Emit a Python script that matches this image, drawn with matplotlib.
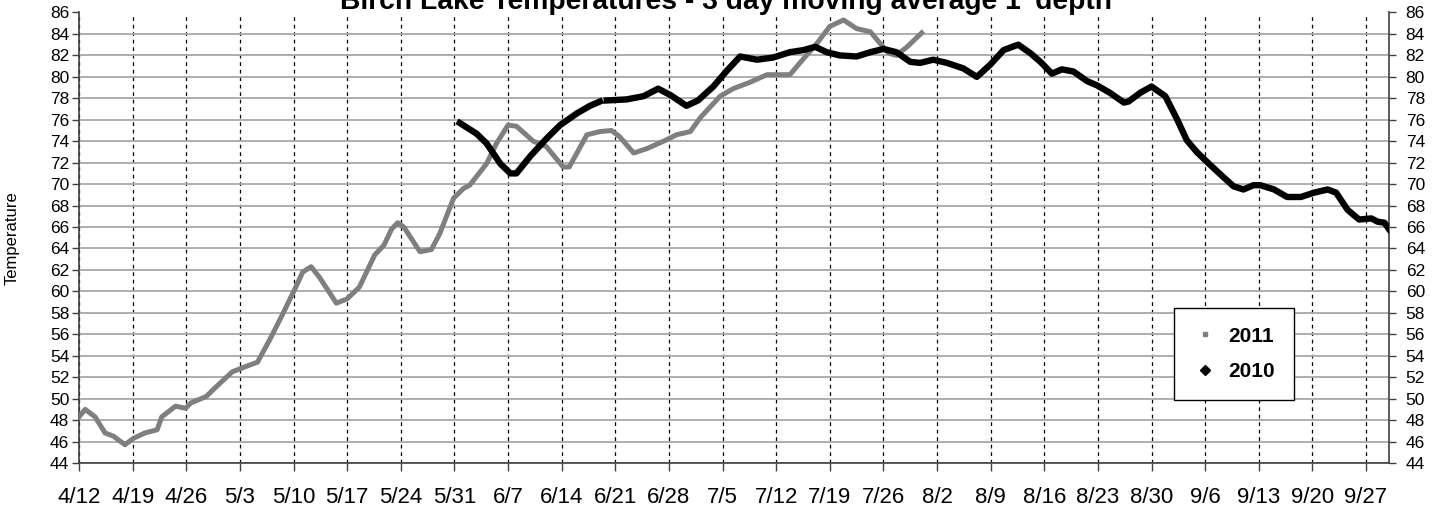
import matplotlib
matplotlib.use("Agg")
import matplotlib.pyplot as plt
import numpy as np
from matplotlib.lines import Line2D

plt.rcParams['font.family'] = ['Liberation Sans', 'DejaVu Sans']

# days counted from 4/12
week_labels = ['4/12', '4/19', '4/26', '5/3', '5/10', '5/17', '5/24', '5/31',
               '6/7', '6/14', '6/21', '6/28', '7/5', '7/12', '7/19', '7/26',
               '8/2', '8/9', '8/16', '8/23', '8/30', '9/6', '9/13', '9/20', '9/27']

# 2011 (gray)
days_2011 = [0, 0.8, 2.1, 3.4, 4.5, 6, 7.1, 8.6, 10.2, 10.8, 12.6, 13.9, 14.6,
             16.6, 17.9, 20, 21.8, 23.3, 24.9, 26.6, 28.3, 29.2, 30.3, 31.4,
             33.6, 35.0, 36.6, 38.6, 39.8, 40.8, 41.6, 42.4, 44.5, 46.0, 47.1,
             48.9, 50.2, 51.0, 53.2, 54.5, 56.0, 57.1, 59.3, 61.0, 63.2, 64.0,
             66.3, 68.0, 69.5, 70.6, 72.4, 74.1, 76.3, 78.0, 79.8, 81.1, 83.7,
             85.4, 87.6, 89.8, 92.8, 94.1, 96.3, 98.0, 99.8, 101.5, 103.3,
             104.6, 105.7, 106.7, 108.1, 110.0]
temp_2011 = [48.3, 49.0, 48.3, 46.8, 46.5, 45.7, 46.3, 46.8, 47.1, 48.3, 49.3,
             49.1, 49.6, 50.2, 51.1, 52.5, 53.0, 53.4, 55.5, 57.9, 60.4, 61.8,
             62.3, 61.3, 58.9, 59.3, 60.4, 63.4, 64.3, 65.8, 66.4, 66.0, 63.7,
             63.9, 65.4, 68.7, 69.6, 69.9, 71.9, 73.8, 75.5, 75.4, 74.0, 73.5,
             71.6, 71.6, 74.6, 74.9, 75.0, 74.4, 72.9, 73.3, 74.0, 74.6, 74.9,
             76.2, 78.2, 78.9, 79.5, 80.2, 80.2, 81.3, 83.1, 84.7, 85.3, 84.5,
             84.2, 83.1, 82.2, 82.0, 82.8, 84.1]

# 2010 (black)
days_2010 = [49.7, 51.9, 53.2, 55.0, 56.3, 57.1, 58.9, 61.1, 62.8, 65.0, 66.7,
             68.0, 68.4, 68.9, 71.5, 73.7, 75.6, 77.2, 79.3, 80.8, 82.8, 84.6,
             86.3, 88.5, 90.6, 92.8, 94.6, 96.1, 97.6, 99.3, 101.5, 103.3,
             105.0, 106.7, 108.5, 109.8, 111.5, 113.3, 115.4, 117.2, 118.9,
             120.7, 122.6, 124.2, 125.5, 127.0, 128.3, 129.8, 131.6, 132.9,
             134.6, 136.4, 137.0, 138.5, 140.0, 141.8, 143.3, 144.6, 145.9,
             147.2, 149.0, 150.7, 152.0, 153.3, 154.2, 156.0, 157.7, 159.5,
             161.2, 163.0, 164.1, 165.6, 167.1, 168.7, 169.5, 170.4, 171.0]
temp_2010 = [75.7, 74.7, 73.8, 71.9, 71.0, 71.0, 72.6, 74.3, 75.5, 76.6, 77.3,
             77.7, np.nan, 77.8, 77.9, 78.2, 78.9, 78.3, 77.3, 77.8, 79.1, 80.6,
             81.9, 81.6, 81.8, 82.3, 82.5, 82.8, 82.3, 82.0, 81.9, 82.3, 82.6,
             82.3, 81.4, 81.3, 81.6, 81.3, 80.8, 80.0, 81.1, 82.5, 83.0, 82.2,
             81.4, 80.3, 80.7, 80.5, 79.6, 79.2, 78.5, 77.6, 77.7, 78.5, 79.1,
             78.2, 76.1, 74.1, 73.0, 72.1, 70.9, 69.8, 69.5, 69.9, 69.9, 69.5,
             68.8, 68.8, 69.2, 69.5, 69.2, 67.6, 66.7, 66.8, 66.5, 66.4, 65.8]

fig = plt.figure(figsize=(14.4, 5.16), dpi=100)
ax = fig.add_axes([79/1440, 1 - 463/516, 1310/1440, 450.5/516])

ax.plot(days_2011, temp_2011, color='#7f7f7f', lw=3.6, solid_joinstyle='round', zorder=3)
ax.plot(days_2010, temp_2010, color='black', lw=4.6, solid_joinstyle='round', zorder=4)

ax.set_xlim(0, 171)
ax.set_ylim(44, 86)
yt = np.arange(44, 87, 2)
ax.set_yticks(yt)
ax.set_xticks(np.arange(0, 7 * len(week_labels), 7))
ax.set_xticklabels(week_labels, fontsize=16)
ax.tick_params(axis='x', direction='out', length=6, width=1, pad=11, color='#404040')
ax.tick_params(axis='y', direction='out', length=5, width=1, pad=2, labelsize=12.5, color='#404040')

ax.grid(axis='y', color='#a8a8a8', lw=1.3, ls='-', zorder=0)
ax.grid(axis='x', color='black', lw=0.9, ls=(0, (3, 3)), zorder=0)
for s in ['left', 'right', 'bottom']:
    ax.spines[s].set_color('#404040')
    ax.spines[s].set_linewidth(1.2)
ax.spines['top'].set_visible(False)

ax2 = ax.twinx()
ax2.set_ylim(44, 86)
ax2.set_yticks(yt)
ax2.tick_params(axis='y', direction='out', length=5, width=1, pad=7, labelsize=12.5, color='#404040')
for s in ['left', 'right', 'bottom', 'top']:
    ax2.spines[s].set_visible(False)

ax.set_ylabel('Temperature', fontsize=12)
ax.yaxis.set_label_coords(-59 / 1310, 0.5)

fig.text(0.5045, 1 - 9/516, "Birch Lake Temperatures - 3 day moving average 1' depth",
         ha='center', va='baseline', fontsize=20.3, fontweight='bold')

handles = [Line2D([], [], ls='none', marker='s', ms=3.5, color='#7f7f7f'),
           Line2D([], [], ls='none', marker='D', ms=5, color='black')]
leg = ax.legend(handles, ['2011', '2010'], loc='upper left',
                bbox_to_anchor=((1174 - 79) / 1310, (463 - 308) / 450.5),
                borderaxespad=0, fancybox=False, edgecolor='black', framealpha=1,
                prop={'weight': 'bold', 'size': 15}, handlelength=1.2,
                handletextpad=0.5, borderpad=0.9, labelspacing=0.8)
leg.get_frame().set_linewidth(1.0)
leg.set_zorder(10)

fig.savefig('out.png', dpi=100)
